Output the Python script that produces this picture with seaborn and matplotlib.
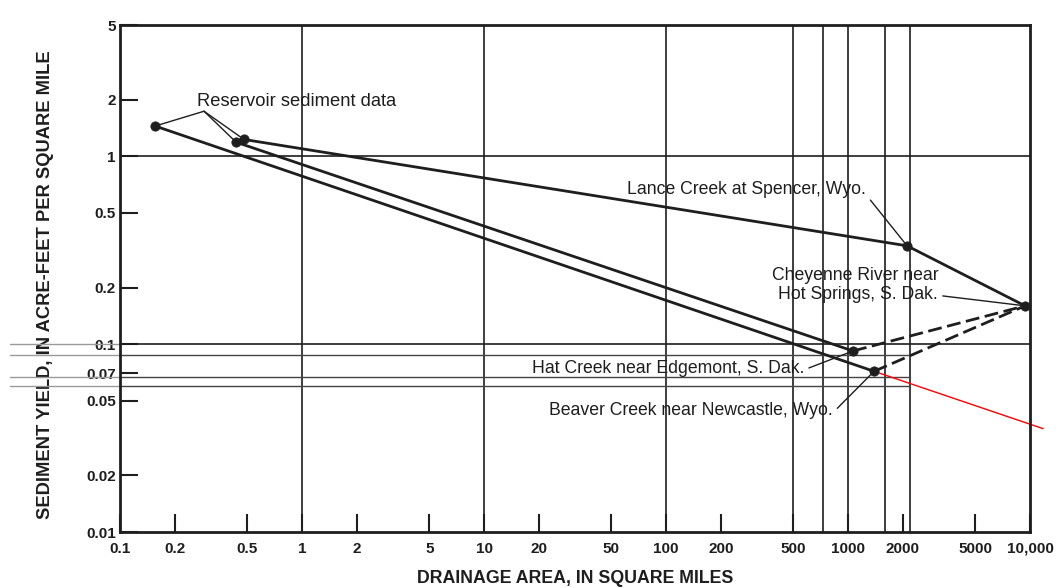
import matplotlib
matplotlib.use("Agg")
import matplotlib.pyplot as plt
import pandas as pd
import seaborn as sns

# reservoir sediment surveys (small drainage areas)
res_area = [0.156, 0.434, 0.48]
res_yield = [1.45, 1.19, 1.23]

# gaging stations
station_keys = ["lance", "cheyenne", "hat", "beaver"]
station_names = [
    "Lance Creek at Spencer, Wyo.",
    "Cheyenne River near\nHot Springs, S. Dak.",
    "Hat Creek near Edgemont, S. Dak.",
    "Beaver Creek near Newcastle, Wyo.",
]
station_area = [2110, 9390, 1065, 1390]
station_yield = [0.334, 0.160, 0.092, 0.0717]

# red pencil extension beyond Beaver Creek
trend_area = [1390, 11800]
trend_yield = [0.0717, 0.0355]

# connecting lines: (path of points, style)
paths = [
    (["res0", "beaver"], "solid"),
    (["res1", "hat"], "solid"),
    (["res2", "lance", "cheyenne"], "solid"),
    (["hat", "cheyenne"], "dashed"),
    (["beaver", "cheyenne"], "dashed"),
]

x_ticks = [0.1, 0.2, 0.5, 1, 2, 5, 10, 20, 50, 100, 200, 500, 1000, 2000, 5000, 10000]
x_tick_labels = ["0.1", "0.2", "0.5", "1", "2", "5", "10", "20", "50", "100",
                 "200", "500", "1000", "2000", "5000", "10,000"]
y_ticks = [0.01, 0.02, 0.05, 0.07, 0.1, 0.2, 0.5, 1, 2, 5]
y_tick_labels = ["0.01", "0.02", "0.05", "0.07", "0.1", "0.2", "0.5", "1", "2", "5"]

grid_x = [1, 10, 100, 500, 730, 1000, 1600, 2200]
grid_y = [0.1, 1]
stray_y = [0.088, 0.067, 0.06]

# label placement (axes fraction) and where the leader leaves the text
label_xy = [(0.820, 0.675), (0.899, 0.487), (0.752, 0.3235), (0.7835, 0.2406)]
label_relpos = [(1.0, 0.2), (1.0, 0.22), (1.0, 0.4), (1.0, 0.35)]

pts = {f"res{i}": (a, y) for i, (a, y) in enumerate(zip(res_area, res_yield))}
pts.update({k: (a, y) for k, a, y in zip(station_keys, station_area, station_yield)})

rows = []
for seg, (path, kind) in enumerate(paths):
    for key in path:
        rows.append({"area": pts[key][0], "yield": pts[key][1], "seg": seg, "kind": kind})
lines = pd.DataFrame(rows)

marks = pd.DataFrame({
    "area": res_area + station_area,
    "yield": res_yield + station_yield,
})

sns.set_theme(style="white")
plt.rcParams["font.family"] = ["Liberation Sans", "DejaVu Sans"]

fig = plt.figure(figsize=(10.63, 5.88), dpi=100)
ax = fig.add_axes([0.1129, 0.0952, 0.8561, 0.8622])
ax.set_xscale("log")
ax.set_yscale("log")
ax.set_xlim(0.1, 10000)
ax.set_ylim(0.01, 5)

ink = "#1e1e1e"
for gx in grid_x:
    ax.axvline(gx, color=ink, lw=1.2, zorder=1)
for gy in grid_y:
    ax.axhline(gy, color=ink, lw=1.2, zorder=1)
for gy in stray_y:
    ax.axhline(gy, xmin=0, xmax=0.868, color="#444444", lw=1.0, zorder=1)
for gy in [0.1] + stray_y:
    ax.axhline(gy, xmin=-0.121, xmax=0, color="#9a9a9a", lw=1.0,
               clip_on=False, zorder=1)

sns.lineplot(data=lines, x="area", y="yield", units="seg", estimator=None,
             style="kind", dashes={"solid": "", "dashed": (5, 2)},
             sort=False, color=ink, lw=2.0, legend=False, ax=ax, zorder=3)
sns.scatterplot(data=marks, x="area", y="yield", s=45, color=ink,
                edgecolor=ink, legend=False, ax=ax, zorder=4)
ax.plot(trend_area, trend_yield, color="red", lw=1.0, clip_on=False, zorder=2)

# leaders for the reservoir points
ax.text(0.0846, 0.850, "Reservoir sediment data", transform=ax.transAxes,
        ha="left", va="center", fontsize=13.2, color=ink)
for a, y in zip(res_area, res_yield):
    ax.annotate("", xy=(a, y), xytext=(0.0923, 0.830), textcoords="axes fraction",
                arrowprops=dict(arrowstyle="-", color=ink, lw=1.0,
                                shrinkA=0, shrinkB=3))

for name, a, y, pos, rel in zip(station_names, station_area, station_yield,
                                label_xy, label_relpos):
    ax.annotate(name, xy=(a, y), xytext=pos, textcoords="axes fraction",
                ha="right", va="center", fontsize=12.7, color=ink,
                linespacing=1.2,
                arrowprops=dict(arrowstyle="-", color=ink, lw=1.0,
                                relpos=rel, shrinkA=1, shrinkB=3))

ax.set_xticks(x_ticks)
ax.set_xticklabels(x_tick_labels)
ax.set_yticks(y_ticks)
ax.set_yticklabels(y_tick_labels)
ax.minorticks_off()
ax.tick_params(axis="x", direction="in", length=13, width=1.5, pad=7,
               labelsize=11, colors=ink, bottom=True, top=False)
ax.tick_params(axis="y", direction="in", length=13, width=1.5, pad=3,
               labelsize=11, colors=ink, left=True, right=False)
for lab in ax.get_xticklabels() + ax.get_yticklabels():
    lab.set_fontweight("bold")

for sp in ax.spines.values():
    sp.set_color(ink)
    sp.set_linewidth(2.0)

ax.set_xlabel("DRAINAGE AREA, IN SQUARE MILES", fontsize=12.8,
              fontweight="bold", color=ink)
ax.set_ylabel("SEDIMENT YIELD, IN ACRE-FEET PER SQUARE MILE", fontsize=13.2,
              fontweight="bold", color=ink)
ax.xaxis.set_label_coords(0.5, -0.075)
ax.yaxis.set_label_coords(-0.072, 0.487)

fig.savefig("out.png", dpi=100, facecolor="white")
